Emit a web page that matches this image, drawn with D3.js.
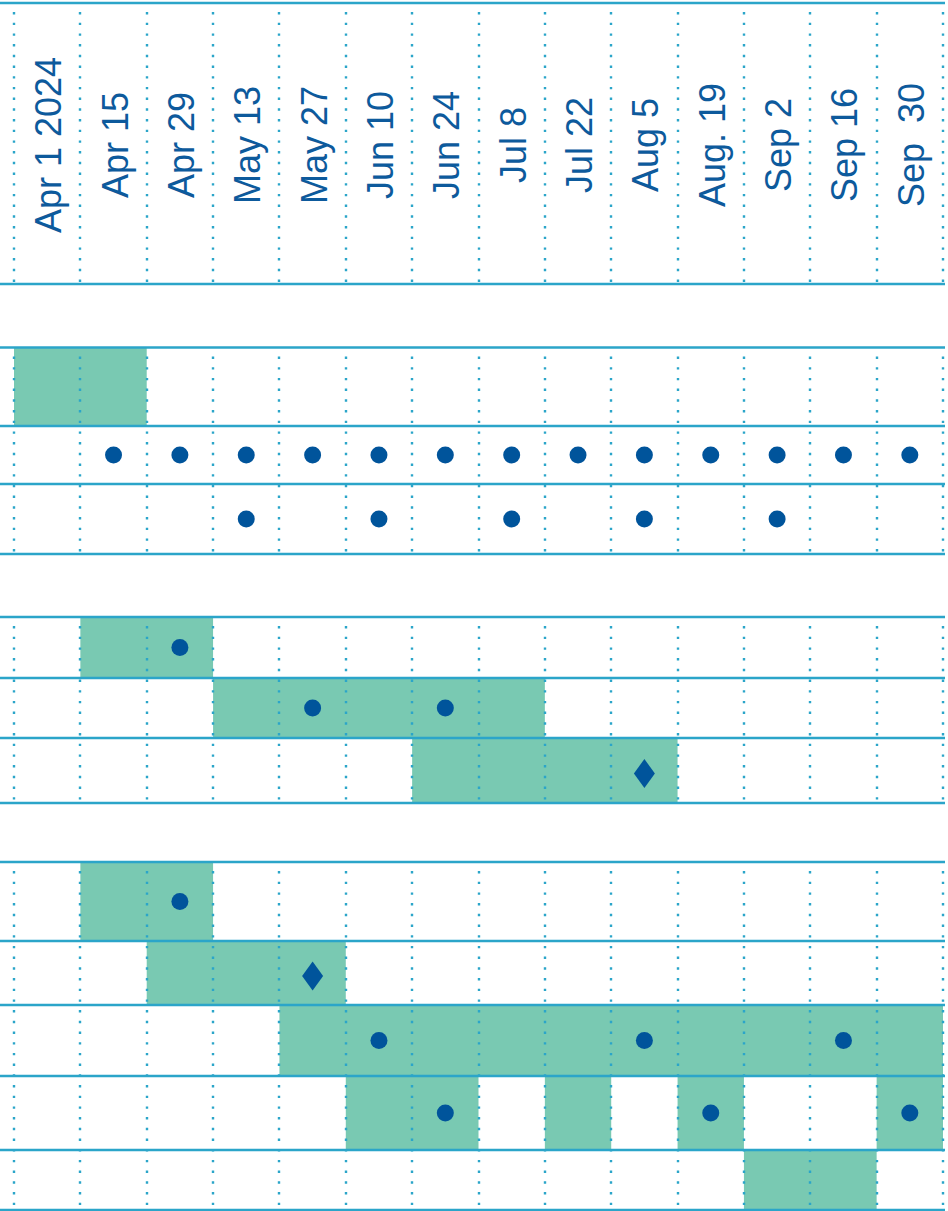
<!DOCTYPE html>
<html>
<head>
<meta charset="utf-8">
<script src="https://cdn.jsdelivr.net/npm/d3@7/dist/d3.min.js"></script>
<style>
  body { margin: 0; background: #fff; }
  svg { display: block; }
</style>
</head>
<body>
<script>
// week columns (tick labels)
var weeks = ["Apr 1 2024", "Apr 15", "Apr 29", "May 13", "May 27", "Jun 10", "Jun 24",
             "Jul 8", "Jul 22", "Aug 5", "Aug. 19", "Sep 2", "Sep 16", "Sep  30"];

// task rows, top to bottom
var rows = ["r1", "r2", "r3", "r4", "r5", "r6", "r7", "r8", "r9", "r10", "r11"];

// shaded spans: row, first week, last week
var bars = [
  ["r1", "Apr 1 2024", "Apr 15"],
  ["r4", "Apr 15", "Apr 29"],
  ["r5", "May 13", "Jul 8"],
  ["r6", "Jun 24", "Aug 5"],
  ["r7", "Apr 15", "Apr 29"],
  ["r8", "Apr 29", "May 27"],
  ["r9", "May 27", "Sep  30"],
  ["r10", "Jun 10", "Jun 24"],
  ["r10", "Jul 22", "Jul 22"],
  ["r10", "Aug. 19", "Aug. 19"],
  ["r10", "Sep  30", "Sep  30"],
  ["r11", "Sep 2", "Sep 16"]
];

// round markers
var dots = [
  ["r2", "Apr 15"], ["r2", "Apr 29"], ["r2", "May 13"], ["r2", "May 27"], ["r2", "Jun 10"],
  ["r2", "Jun 24"], ["r2", "Jul 8"], ["r2", "Jul 22"], ["r2", "Aug 5"], ["r2", "Aug. 19"],
  ["r2", "Sep 2"], ["r2", "Sep 16"], ["r2", "Sep  30"],
  ["r3", "May 13"], ["r3", "Jun 10"], ["r3", "Jul 8"], ["r3", "Aug 5"], ["r3", "Sep 2"],
  ["r4", "Apr 29"],
  ["r5", "May 27"], ["r5", "Jun 24"],
  ["r7", "Apr 29"],
  ["r9", "Jun 10"], ["r9", "Aug 5"], ["r9", "Sep 16"],
  ["r10", "Jun 24"], ["r10", "Aug. 19"], ["r10", "Sep  30"]
];

// diamond markers (milestones)
var diamonds = [
  ["r6", "Aug 5"],
  ["r8", "May 27"]
];

// ---- layout ----
var W = 948, H = 1211;
var header = [3, 284];
var rowTop = [347.5, 426, 484, 617, 678, 738, 862, 941, 1005, 1076, 1150];
var rowBottom = [426, 484, 554, 678, 738, 803, 941, 1005, 1076, 1150, 1210];
var groups = [[3, 284], [347.5, 554], [617, 803], [862, 1210]];

var green = "#79c9b2", lineBlue = "#2ba5c9", navy = "#00549b", textBlue = "#0d5a9c";

var svg = d3.select("body").append("svg")
    .attr("width", W)
    .attr("height", H);

var x = d3.scaleBand()
    .domain(weeks)
    .range([14, 943])
    .paddingInner(0)
    .paddingOuter(0);

var yTop = d3.scaleOrdinal().domain(rows).range(rowTop);
var yBot = d3.scaleOrdinal().domain(rows).range(rowBottom);
function yMid(r) { return (yTop(r) + yBot(r)) / 2; }

// shaded bars
svg.append("g").selectAll("rect")
    .data(bars)
    .enter().append("rect")
    .attr("x", function(d) { return x(d[1]); })
    .attr("width", function(d) { return x(d[2]) + x.bandwidth() - x(d[1]); })
    .attr("y", function(d) { return yTop(d[0]); })
    .attr("height", function(d) { return yBot(d[0]) - yTop(d[0]); })
    .attr("fill", green);

// dotted column lines, per group (snapped to whole pixels so the dots stay crisp)
var colEdges = weeks.map(function(w) { return Math.round(x(w)); }).concat([Math.round(x.range()[1])]);
groups.forEach(function(g) {
  svg.append("g").selectAll("line")
      .data(colEdges)
      .enter().append("line")
      .attr("x1", function(d) { return d; })
      .attr("x2", function(d) { return d; })
      .attr("y1", g[0] + 9)
      .attr("y2", g[1] - 2)
      .attr("stroke", lineBlue)
      .attr("stroke-width", 2.4)
      .attr("stroke-dasharray", "2.4,8.3");
});

// solid row lines
var hLines = header.concat(rowTop, rowBottom);
hLines = hLines.filter(function(v, i) { return hLines.indexOf(v) === i; });
svg.append("g").selectAll("line")
    .data(hLines)
    .enter().append("line")
    .attr("x1", 0)
    .attr("x2", 945)
    .attr("y1", function(d) { return d; })
    .attr("y2", function(d) { return d; })
    .attr("stroke", lineBlue)
    .attr("stroke-width", 2.6);

// rotated week labels
svg.append("g").selectAll("text")
    .data(weeks)
    .enter().append("text")
    .attr("transform", function(d) {
      return "translate(" + (x(d) + x.bandwidth() / 2 + 14) + "," + 145 + ") rotate(-90)";
    })
    .attr("text-anchor", "middle")
    .style("white-space", "pre")
    .attr("font-family", "'Liberation Sans', Arial, sans-serif")
    .attr("font-size", 36)
    .attr("fill", textBlue)
    .text(function(d) { return d; });

// round markers
svg.append("g").selectAll("circle")
    .data(dots)
    .enter().append("circle")
    .attr("cx", function(d) { return x(d[1]) + x.bandwidth() / 2; })
    .attr("cy", function(d) { return yMid(d[0]); })
    .attr("r", 8.5)
    .attr("fill", navy);

// diamonds
svg.append("g").selectAll("path")
    .data(diamonds)
    .enter().append("path")
    .attr("d", function(d) {
      var cx = x(d[1]) + x.bandwidth() / 2, cy = yMid(d[0]) + 3;
      var p = d3.path();
      p.moveTo(cx, cy - 14.5);
      p.lineTo(cx + 10.5, cy);
      p.lineTo(cx, cy + 14.5);
      p.lineTo(cx - 10.5, cy);
      p.closePath();
      return p.toString();
    })
    .attr("fill", navy);
</script>
</body>
</html>
